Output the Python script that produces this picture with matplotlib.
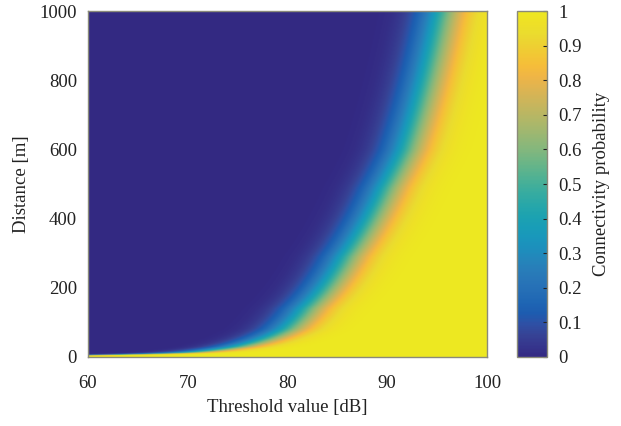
import math
import numpy as np
import matplotlib
matplotlib.use("Agg")
import matplotlib.pyplot as plt
from matplotlib.colors import LinearSegmentedColormap

# ---- data ----
# threshold (dB) at which connectivity probability is 0.5, for given distance (m)
contour_threshold_db = [56.0, 60.0, 65.0, 70.0, 75.0, 80.0, 82.0, 86.0, 90.0, 92.0, 95.4, 98.0]
contour_distance_m = [2.0, 5.0, 7.5, 12.0, 29.0, 80.0, 140.0, 290.0, 490.0, 600.0, 974.0, 1300.0]
spread_db = 2.4  # width of the transition (std. dev., dB)

threshold_range = [60, 100]
distance_range = [0, 1000]
x_ticks = [60, 70, 80, 90, 100]
y_ticks = [0, 200, 400, 600, 800, 1000]
cbar_ticks = [0, 0.1, 0.2, 0.3, 0.4, 0.5, 0.6, 0.7, 0.8, 0.9, 1]
cbar_labels = ["0", "0.1", "0.2", "0.3", "0.4", "0.5", "0.6", "0.7", "0.8", "0.9", "1"]

# ---- parula colormap (muted, as in the printed figure) ----
parula_pts = [
    (0.2081, 0.1663, 0.5292), (0.2123, 0.2138, 0.6270), (0.1959, 0.2645, 0.7279),
    (0.1253, 0.3242, 0.8303), (0.0117, 0.3875, 0.8820), (0.0165, 0.4266, 0.8786),
    (0.0498, 0.4586, 0.8641), (0.0723, 0.4887, 0.8467), (0.0793, 0.5200, 0.8312),
    (0.0641, 0.5570, 0.8240), (0.0343, 0.5966, 0.8199), (0.0239, 0.6287, 0.8038),
    (0.0228, 0.6535, 0.7768), (0.0384, 0.6743, 0.7436), (0.0843, 0.6928, 0.7062),
    (0.1453, 0.7098, 0.6646), (0.2178, 0.7250, 0.6193), (0.3022, 0.7376, 0.5712),
    (0.3953, 0.7459, 0.5244), (0.4871, 0.7491, 0.4840), (0.5709, 0.7485, 0.4494),
    (0.6473, 0.7456, 0.4188), (0.7184, 0.7411, 0.3905), (0.7858, 0.7356, 0.3633),
    (0.8507, 0.7299, 0.3360), (0.9139, 0.7258, 0.3063), (0.9739, 0.7314, 0.2666),
    (0.9990, 0.7653, 0.2164), (0.9880, 0.8066, 0.1794), (0.9697, 0.8481, 0.1475),
    (0.9589, 0.8949, 0.1132), (0.9661, 0.9514, 0.0755), (0.9763, 0.9831, 0.0538),
]
mute = [0.0, 0.15, 0.28, 0.32, 0.32, 0.3, 0.28, 0.25, 0.22, 0.2, 0.18, 0.16,
        0.15, 0.15, 0.15, 0.15, 0.15, 0.15, 0.15, 0.15, 0.12, 0.1, 0.08, 0.06,
        0.05, 0.04, 0.03, 0.03, 0.05, 0.08, 0.1, 0.1, 0.1]
muted = []
for c, a in zip(parula_pts, mute):
    c = np.array(c)
    lum = 0.2126 * c[0] + 0.7152 * c[1] + 0.0722 * c[2]
    muted.append(tuple(np.clip((c * (1 - a) + lum * a) * 0.97, 0, 1)))
muted[-1] = (0.93, 0.91, 0.13)
muted[-2] = (0.935, 0.88, 0.15)
parula = LinearSegmentedColormap.from_list("parula", muted, N=256)

# ---- field ----
T = np.linspace(threshold_range[0], threshold_range[1], 401)
D = np.linspace(distance_range[0], distance_range[1], 601)
logd = np.log10(np.maximum(D, 0.5))
T50 = np.interp(logd, np.log10(contour_distance_m), contour_threshold_db,
                left=40.0, right=contour_threshold_db[-1])
Z = (T[None, :] - T50[:, None]) / (spread_db * math.sqrt(2))
erf = np.vectorize(math.erf)
P = 0.5 * (1 + erf(Z))

plt.rcParams["font.family"] = ["Liberation Serif", "DejaVu Serif"]
plt.rcParams["font.size"] = 13.5

fig = plt.figure(figsize=(6.21, 4.26), dpi=100)
ax = fig.add_axes([0.1417, 0.162, 0.6425, 0.812])
cax = fig.add_axes([0.8325, 0.162, 0.0485, 0.812])

im = ax.imshow(P, extent=[threshold_range[0], threshold_range[1],
                          distance_range[0], distance_range[1]],
               origin="lower", aspect="auto", cmap=parula, vmin=0, vmax=1,
               interpolation="bilinear")
ax.set_xlim(threshold_range)
ax.set_ylim(distance_range)
ax.set_xticks(x_ticks)
ax.set_yticks(y_ticks)
ax.tick_params(axis="x", length=0, pad=13, labelsize=13.5, colors="#222222")
ax.tick_params(axis="y", length=0, pad=8, labelsize=13.5, colors="#222222")
ax.set_xlabel("Threshold value [dB]", fontsize=13.5, labelpad=5, color="#222222")
ax.set_ylabel("Distance [m]", fontsize=13.5, labelpad=7, color="#222222")
for s in ax.spines.values():
    s.set_color("#8a8a7a")
    s.set_linewidth(1.0)

cb = fig.colorbar(im, cax=cax, ticks=cbar_ticks)
cb.ax.set_yticklabels(cbar_labels)
cb.ax.tick_params(direction="in", length=3, width=0.8, pad=8, labelsize=13.5,
                  colors="#222222")
cb.outline.set_edgecolor("#8a8a7a")
cb.outline.set_linewidth(1.0)
cb.set_label("Connectivity probability", fontsize=13.5, labelpad=8, color="#222222")

fig.savefig("out.png", dpi=100)
